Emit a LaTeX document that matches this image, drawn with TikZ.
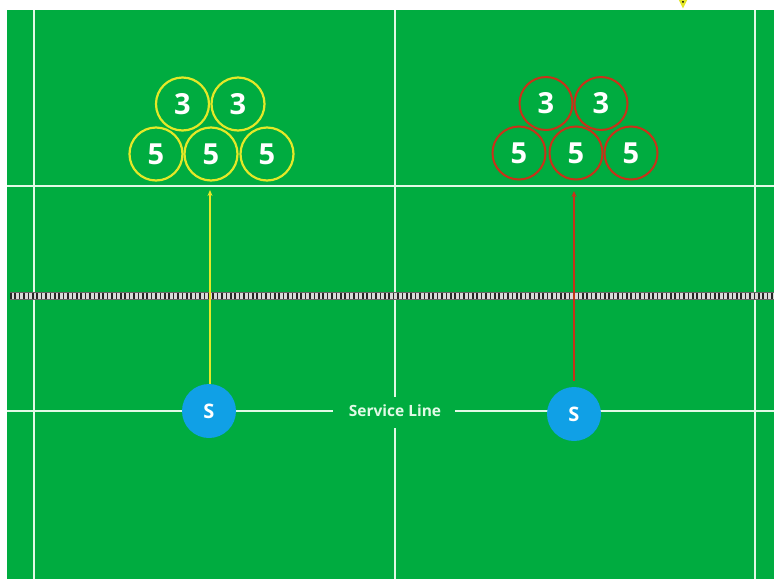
\documentclass[tikz,border=0pt]{standalone}
\usepackage{fontspec}
\setsansfont{Open Sans}
\usetikzlibrary{arrows.meta}
\definecolor{court}{RGB}{0,172,64}
\definecolor{courtline}{RGB}{225,250,230}
\definecolor{ballY}{RGB}{228,232,40}
\definecolor{ballR}{RGB}{200,50,25}
\definecolor{sblue}{RGB}{16,160,230}
\tikzset{
  cline/.style={draw=courtline, line width=1.3pt},
  ballY/.style={circle, draw=ballY, line width=2.2pt, minimum size=53pt, inner sep=0pt,
     text=white, font=\sffamily\bfseries\fontsize{29}{29}\selectfont},
  ballR/.style={circle, draw=ballR, line width=2pt, minimum size=53pt, inner sep=0pt,
     text=white, font=\sffamily\bfseries\fontsize{29}{29}\selectfont},
  server/.style={circle, fill=sblue, minimum size=54pt, inner sep=0pt,
     text=white, font=\sffamily\bfseries\fontsize{20}{20}\selectfont},
  arrY/.style={draw=ballY, line width=2pt, -{Stealth[length=6pt,width=5pt]}},
  arrR/.style={draw=ballR, line width=2pt, -{Stealth[length=6pt,width=5pt]}},
  lbl/.style={text=courtline, font=\sffamily\bfseries\fontsize{15.5}{15.5}\selectfont, inner sep=0pt}
}
\begin{document}
\begin{tikzpicture}[x=1pt,y=-1pt]
\useasboundingbox (0,0) rectangle (774,579);
\fill[white] (0,0) rectangle (774,579);
\fill[court] (7,10) rectangle (774,579);
% court lines
\draw[cline] (34,10) -- (34,579);
\draw[cline] (755,10) -- (755,579);
\draw[cline] (7,186) -- (774,186);
\draw[cline] (395,10) -- (395,397);
\draw[cline] (395,428) -- (395,579);
\draw[cline] (7,411) -- (333,411);
\draw[cline] (455,411) -- (774,411);
\node[lbl] (sl) at (395,411) {Service Line};
% net
\fill[gray!30] (10,292) rectangle (774,299);
\draw[black!85, line width=7pt, dash pattern=on 1.6pt off 2.8pt] (10,295.5) -- (774,295.5);
\draw[black!60, line width=0.6pt] (10,292) -- (774,292);
\draw[black!60, line width=0.6pt] (10,299) -- (774,299);
% top yellow mark
\fill[ballY] (680,0) -- (686,0) -- (683,6) -- cycle;
% yellow balls
\node[ballY] (y1) at (182.5,104) {3};
\node[ballY] (y2) at (238,104) {3};
\node[ballY] (y3) at (156,154) {5};
\node[ballY] (y4) at (211,154) {5};
\node[ballY] (y5) at (267,154) {5};
% red balls
\node[ballR] (r1) at (546,103.5) {3};
\node[ballR] (r2) at (601,103.5) {3};
\node[ballR] (r3) at (519,153) {5};
\node[ballR] (r4) at (576,153) {5};
\node[ballR] (r5) at (631,153) {5};
% servers
\node[server] (s1) at (209,411) {S};
\node[server] (s2) at (574,414) {S};
\coordinate (ya) at (210,190);
\coordinate (ra) at (574,191);
\draw[arrY] (s1.north -| ya) -- (ya);
\draw[arrR] ([yshift=6pt]s2.north) -- (ra);
\end{tikzpicture}
\end{document}
